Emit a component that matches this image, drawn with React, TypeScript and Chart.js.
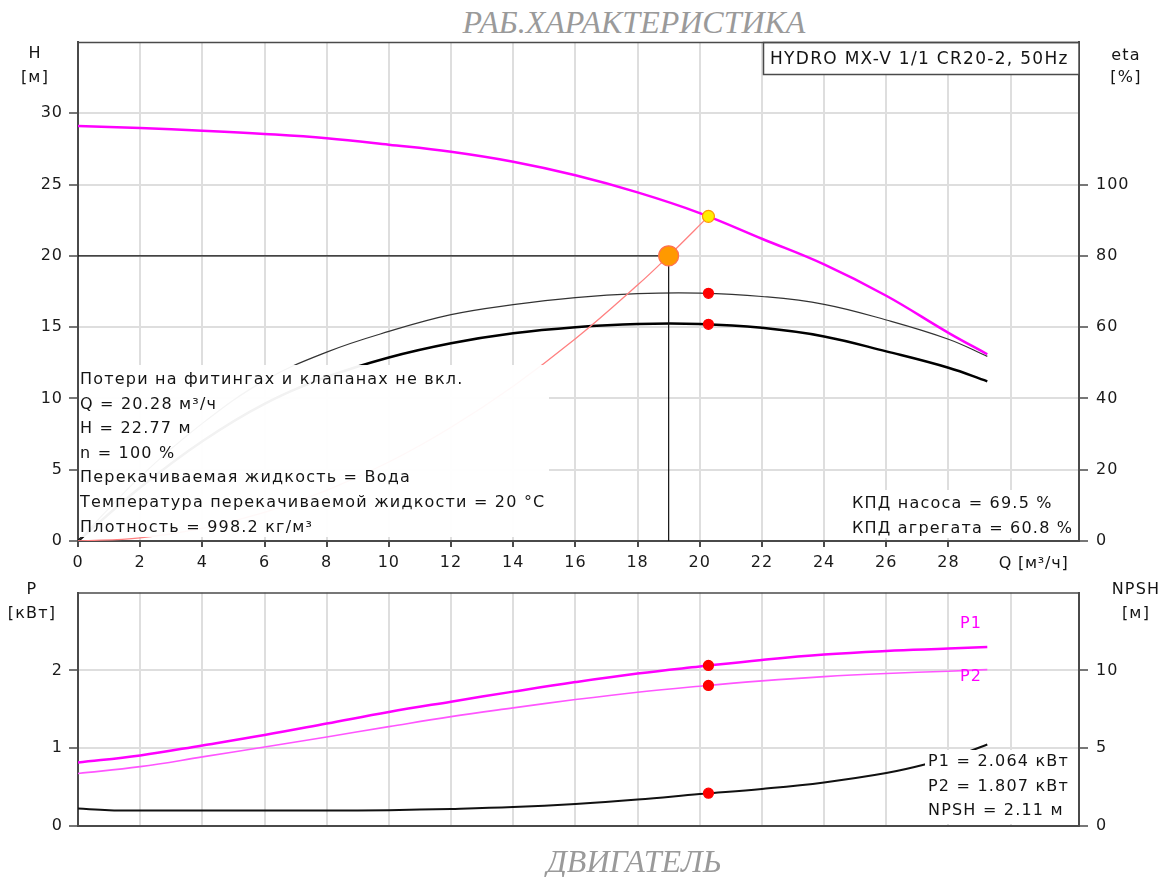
import React, { useEffect, useRef } from 'react';
import { Chart, registerables } from 'chart.js';

Chart.register(...registerables);
Chart.defaults.font.family = "'DejaVu Sans', sans-serif";

// ---------- data ----------
const qTicks = [0, 2, 4, 6, 8, 10, 12, 14, 16, 18, 20, 22, 24, 26, 28, 30];
const hTicks = [0, 5, 10, 15, 20, 25, 30];
const etaTicks = [0, 20, 40, 60, 80, 100];
const pTicks = [0, 1, 2];
const npshTicks = [0, 5, 10];

const qCurve = [0, 2, 4, 6, 8, 10, 12, 14, 16, 18, 20, 22, 24, 26, 28, 29.25];
const headM = [29.1, 28.97, 28.78, 28.55, 28.25, 27.8, 27.3, 26.6, 25.65, 24.45, 23.0, 21.2, 19.4, 17.2, 14.6, 13.1];
const etaPump = [0, 18, 33, 45, 53, 58.8, 63.5, 66.3, 68.3, 69.4, 69.55, 68.6, 66.4, 62, 56.6, 51.8];
const etaTotal = [0, 15, 28, 38.5, 46, 51.5, 55.5, 58.3, 60, 60.9, 60.9, 59.8, 57.4, 53.2, 48.6, 44.8];
const p1kW = [0.815, 0.907, 1.036, 1.17, 1.317, 1.466, 1.598, 1.727, 1.85, 1.96, 2.05, 2.135, 2.205, 2.25, 2.28, 2.3];
const p2kW = [0.675, 0.763, 0.888, 1.016, 1.145, 1.277, 1.406, 1.518, 1.625, 1.72, 1.797, 1.865, 1.92, 1.96, 1.99, 2.01];

const qNpsh = [0, 1, 2, 4, 6, 8, 10, 12, 14, 16, 18, 20, 22, 24, 26, 27.3, 28.5, 29.25];
const npshM = [1.12, 1.02, 1.0, 1.0, 1.0, 1.0, 1.02, 1.1, 1.22, 1.42, 1.7, 2.05, 2.38, 2.8, 3.4, 3.98, 4.68, 5.24];

const qSystem = [0, 2, 4, 6, 8, 10, 12, 14, 16, 18, 19, 20.28];
const hSystem = [0, 0.22, 0.89, 2.0, 3.55, 5.54, 7.98, 10.86, 14.18, 17.95, 20.0, 22.77];

const dutyQ = 19;
const dutyH = 20;
const opQ = 20.28;
const opH = 22.77;
const opEtaPump = 69.5;
const opEtaTotal = 60.8;
const opP1 = 2.064;
const opP2 = 1.807;
const opNpsh = 2.11;

const infoLines = [
  'Потери на фитингах и клапанах не вкл.',
  'Q = 20.28 м³/ч',
  'H = 22.77 м',
  'n = 100 %',
  'Перекачиваемая жидкость = Вода',
  'Температура перекачиваемой жидкости = 20 °C',
  'Плотность = 998.2 кг/м³',
];
const effLines = ['КПД насоса = 69.5 %', 'КПД агрегата = 60.8 %'];
const powerLines = ['P1 = 2.064 кВт', 'P2 = 1.807 кВт', 'NPSH = 2.11 м'];
const pumpName = 'HYDRO MX-V 1/1 CR20-2, 50Hz';

// ---------- styles ----------
const AXIS = '#4a4a4a';
const GRID = '#dedede';
const TEXT = '#141414';
const MAGENTA = '#ff00ff';
const FONT = "'DejaVu Sans', sans-serif";

const pts = (xs: number[], ys: number[]) => xs.map((x, i) => ({ x, y: ys[i] }));
const setTicks = (vals: number[]) => (s: any) => {
  s.ticks = vals.map((v) => ({ value: v }));
};

function txt(ctx: CanvasRenderingContext2D, s: string, x: number, y: number, size = 16, color = TEXT, align: CanvasTextAlign = 'left', spacing = '1.2px') {
  ctx.save();
  ctx.font = `${size}px ${FONT}`;
  (ctx as any).letterSpacing = spacing;
  ctx.fillStyle = color;
  ctx.textAlign = align;
  ctx.textBaseline = 'alphabetic';
  ctx.fillText(s, x, y);
  ctx.restore();
}

const spacingPlugin = {
  id: 'spacing',
  beforeDraw(chart: any) {
    chart.ctx.letterSpacing = '1px';
  },
};

function topBorder(chart: any) {
  const { ctx, chartArea } = chart;
  ctx.save();
  ctx.strokeStyle = AXIS;
  ctx.lineWidth = 1.5;
  ctx.beginPath();
  ctx.moveTo(chartArea.left, chartArea.top + 0.5);
  ctx.lineTo(chartArea.right, chartArea.top + 0.5);
  ctx.stroke();
  ctx.restore();
}

const topPlugin = {
  id: 'topDecor',
  afterDatasetsDraw(chart: any) {
    const { ctx, chartArea } = chart;
    const xs = chart.scales.x;
    // info box (semi-transparent)
    ctx.save();
    ctx.fillStyle = 'rgba(255,255,255,0.95)';
    ctx.fillRect(chartArea.left + 1, 365, 470, 172);
    ctx.fillStyle = '#ffffff';
    ctx.fillRect(848, 490, chartArea.right - 849, 48);
    ctx.restore();
    infoLines.forEach((l, i) => txt(ctx, l, 80, 384 + i * 24.6));
    effLines.forEach((l, i) => txt(ctx, l, 852, 508 + i * 24.5));
    // pump name box
    ctx.save();
    ctx.fillStyle = '#ffffff';
    ctx.fillRect(763, chartArea.top, chartArea.right - 763, 32);
    ctx.strokeStyle = AXIS;
    ctx.lineWidth = 1.5;
    ctx.strokeRect(763.5, chartArea.top + 0.5, chartArea.right - 763.5, 32);
    ctx.restore();
    txt(ctx, pumpName, 770, 64, 17, TEXT, 'left', '1.3px');
    topBorder(chart);
    // axis titles
    txt(ctx, 'Q [м³/ч]', xs.getPixelForValue(30) + 23, 568, 16, TEXT, 'center', '0.8px');
    txt(ctx, 'H', 35, 58, 16, TEXT, 'center');
    txt(ctx, '[м]', 35, 82, 16, TEXT, 'center');
    txt(ctx, 'eta', 1126, 60, 16, TEXT, 'center');
    txt(ctx, '[%]', 1126, 82, 16, TEXT, 'center');
  },
};

const bottomPlugin = {
  id: 'bottomDecor',
  afterDatasetsDraw(chart: any) {
    const { ctx, chartArea } = chart;
    const off = 575;
    ctx.save();
    ctx.fillStyle = '#ffffff';
    ctx.fillRect(925, 750 - off, chartArea.right - 926, 74);
    ctx.restore();
    powerLines.forEach((l, i) => txt(ctx, l, 928, 766 - off + i * 24.5));
    txt(ctx, 'P1', 960, 628 - off, 16, MAGENTA);
    txt(ctx, 'P2', 960, 681 - off, 16, MAGENTA);
    topBorder(chart);
    txt(ctx, 'P', 32, 594 - off, 16, TEXT, 'center');
    txt(ctx, '[кВт]', 32, 618 - off, 16, TEXT, 'center');
    txt(ctx, 'NPSH', 1136, 594 - off, 16, TEXT, 'center');
    txt(ctx, '[м]', 1136, 618 - off, 16, TEXT, 'center');
  },
};

const lineDs = (data: any[], yAxisID: string, color: string, width: number, tension = 0.4) => ({
  data,
  yAxisID,
  xAxisID: 'x',
  borderColor: color,
  borderWidth: width,
  pointRadius: 0,
  fill: false,
  tension,
});

const pointDs = (x: number, y: number, yAxisID: string, r: number, bg: string, border: string) => ({
  data: [{ x, y }],
  yAxisID,
  xAxisID: 'x',
  showLine: false,
  pointRadius: r,
  pointBackgroundColor: bg,
  pointBorderColor: border,
  pointBorderWidth: 1.2,
});

const tickFont = { size: 16, family: FONT };

const xScale = (height: number, labels: boolean) => ({
  type: 'linear',
  min: 0,
  max: 32.2,
  afterBuildTicks: setTicks(qTicks),
  afterFit: (s: any) => {
    s.height = height;
  },
  grid: {
    color: GRID,
    lineWidth: 2,
    drawTicks: labels,
    tickLength: 6,
    tickColor: (c: any) => (c.tick && c.tick.value === 30 ? 'rgba(0,0,0,0)' : AXIS),
  },
  border: { color: AXIS, width: 2 },
  ticks: {
    display: labels,
    font: tickFont,
    color: '#1a1a1a',
    padding: 6,
    maxRotation: 0,
    autoSkip: false,
    callback: (v: any) => (v === 30 ? '' : String(v)),
  },
});

const yScale = (pos: 'left' | 'right', min: number, max: number, vals: number[], width: number, gridOn: boolean) => ({
  type: 'linear',
  position: pos,
  min,
  max,
  afterBuildTicks: setTicks(vals),
  afterFit: (s: any) => {
    s.width = width;
  },
  grid: { color: GRID, lineWidth: 2, drawOnChartArea: gridOn, tickLength: 9, tickColor: AXIS, tickWidth: 1.5 },
  border: { color: AXIS, width: 2 },
  ticks: { font: tickFont, color: '#1a1a1a', padding: pos === 'left' ? 6 : 8, autoSkip: false },
});

export default function App() {
  const topRef = useRef<HTMLCanvasElement>(null);
  const botRef = useRef<HTMLCanvasElement>(null);

  useEffect(() => {
    const top = new Chart(topRef.current as HTMLCanvasElement, {
      type: 'line',
      data: {
        datasets: [
          pointDs(opQ, opH, 'y', 6, '#ffee00', '#ff9900'),
          pointDs(dutyQ, dutyH, 'y', 10, '#ff9900', '#ff7050'),
          pointDs(opQ, opEtaPump, 'yEta', 5, '#ff0000', '#ff0000'),
          pointDs(opQ, opEtaTotal, 'yEta', 5, '#ff0000', '#ff0000'),
          lineDs(pts(qCurve, headM), 'y', MAGENTA, 2.5),
          lineDs(pts(qSystem, hSystem), 'y', '#ff8080', 1.3),
          lineDs([{ x: 0, y: dutyH }, { x: dutyQ, y: dutyH }, { x: dutyQ, y: 0 }], 'y', '#111', 1.2, 0),
          lineDs(pts(qCurve, etaPump), 'yEta', '#333', 1.2),
          lineDs(pts(qCurve, etaTotal), 'yEta', '#000', 2.5),
        ] as any,
      },
      options: {
        animation: false,
        responsive: false,
        maintainAspectRatio: false,
        devicePixelRatio: 1,
        layout: { padding: { top: 42, left: 0, right: 0, bottom: 0 } },
        plugins: { legend: { display: false }, tooltip: { enabled: false }, title: { display: false } },
        scales: {
          x: xScale(34, true),
          y: yScale('left', 0, 35, hTicks, 78, true),
          yEta: yScale('right', 0, 140, etaTicks, 89, false),
        } as any,
      },
      plugins: [spacingPlugin, topPlugin],
    });

    const bot = new Chart(botRef.current as HTMLCanvasElement, {
      type: 'line',
      data: {
        datasets: [
          pointDs(opQ, opP1, 'yP', 5, '#ff0000', '#ff0000'),
          pointDs(opQ, opP2, 'yP', 5, '#ff0000', '#ff0000'),
          pointDs(opQ, opNpsh, 'yN', 5, '#ff0000', '#ff0000'),
          lineDs(pts(qCurve, p1kW), 'yP', MAGENTA, 2.5),
          lineDs(pts(qCurve, p2kW), 'yP', '#ff55ff', 1.6),
          lineDs(pts(qNpsh, npshM), 'yN', '#111', 2),
        ] as any,
      },
      options: {
        animation: false,
        responsive: false,
        maintainAspectRatio: false,
        devicePixelRatio: 1,
        layout: { padding: { top: 5, left: 0, right: 0, bottom: 0 } },
        plugins: { legend: { display: false }, tooltip: { enabled: false }, title: { display: false } },
        scales: {
          x: xScale(51, false),
          yP: yScale('left', 0, 3, pTicks, 78, true),
          yN: yScale('right', 0, 15, npshTicks, 89, false),
        } as any,
      },
      plugins: [spacingPlugin, bottomPlugin],
    });

    return () => {
      top.destroy();
      bot.destroy();
    };
  }, []);

  const titleStyle: React.CSSProperties = {
    position: 'absolute',
    left: 634,
    transform: 'translateX(-50%)',
    fontFamily: "'Liberation Serif', serif",
    fontStyle: 'italic',
    fontSize: 32,
    lineHeight: '32px',
    color: '#9a9a9a',
    whiteSpace: 'nowrap',
  };

  return (
    <div style={{ position: 'absolute', left: 0, top: 0, width: 1168, height: 877, background: '#fff', overflow: 'hidden' }}>
      <div style={{ ...titleStyle, top: 6 }}>РАБ.ХАРАКТЕРИСТИКА</div>
      <canvas ref={topRef} width={1168} height={575} style={{ position: 'absolute', left: 0, top: 0, width: 1168, height: 575 }} />
      <canvas ref={botRef} width={1168} height={302} style={{ position: 'absolute', left: 0, top: 575, width: 1168, height: 302 }} />
      <div style={{ ...titleStyle, top: 845 }}>ДВИГАТЕЛЬ</div>
    </div>
  );
}
